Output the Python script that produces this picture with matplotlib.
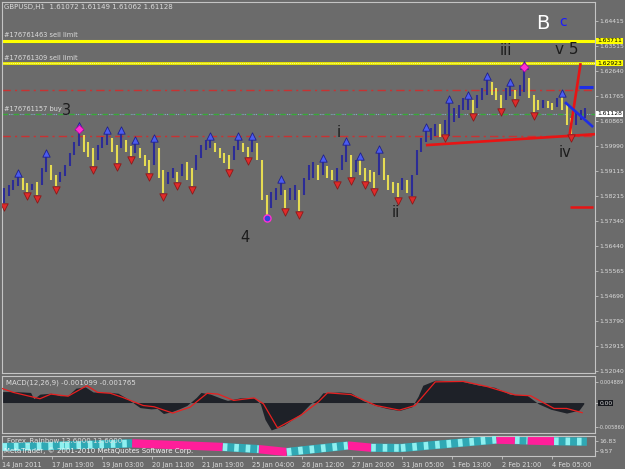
import matplotlib
matplotlib.use("Agg")
import matplotlib.pyplot as plt
from matplotlib.transforms import blended_transform_factory

# ---------------- data ----------------
symbol_text = "GBPUSD,H1  1.61072 1.61149 1.61062 1.61128"
step = 3  # each sample covers 3 hourly bars, sample i starts at bar 3*i

highs = [1.5850, 1.5861, 1.5878, 1.5892, 1.5885, 1.5868, 1.5864, 1.5871, 1.5921, 1.5960,
         1.5931, 1.5896, 1.5907, 1.5931, 1.5974, 1.6013, 1.6055, 1.6037, 1.6013, 1.5991,
         1.6002, 1.6030, 1.6041, 1.6027, 1.6002, 1.6041, 1.6020, 1.5998, 1.6006, 1.5991,
         1.5967, 1.5949, 1.6016, 1.5991, 1.5914, 1.5907, 1.5921, 1.5907, 1.5935, 1.5942,
         1.5921, 1.5967, 1.6002, 1.6020, 1.6023, 1.6009, 1.5991, 1.5974, 1.5967, 1.5998,
         1.6020, 1.6009, 1.5995, 1.6020, 1.6009, 1.5949, 1.5825, 1.5836, 1.5850, 1.5868,
         1.5843, 1.5850, 1.5861, 1.5843, 1.5885, 1.5931, 1.5942, 1.5931, 1.5945, 1.5928,
         1.5914, 1.5921, 1.5967, 1.6002, 1.5967, 1.5949, 1.5949, 1.5921, 1.5914, 1.5907,
         1.5977, 1.5956, 1.5896, 1.5871, 1.5868, 1.5885, 1.5878, 1.5896, 1.5984, 1.6027,
         1.6052, 1.6062, 1.6076, 1.6076, 1.6091, 1.6151, 1.6133, 1.6144, 1.6168, 1.6168,
         1.6161, 1.6179, 1.6204, 1.6232, 1.6225, 1.6204, 1.6179, 1.6204, 1.6211, 1.6197,
         1.6214, 1.6274, 1.6239, 1.6179, 1.6161, 1.6161, 1.6158, 1.6151, 1.6168, 1.6175,
         1.6144, 1.6098, 1.6119, 1.6126, 1.6133]
lows = [1.5797, 1.5822, 1.5843, 1.5857, 1.5843, 1.5836, 1.5843, 1.5825, 1.5861, 1.5907,
        1.5878, 1.5857, 1.5871, 1.5892, 1.5928, 1.5967, 1.5998, 1.5977, 1.5960, 1.5928,
        1.5949, 1.5991, 1.6002, 1.5977, 1.5938, 1.5991, 1.5977, 1.5963, 1.5974, 1.5956,
        1.5928, 1.5903, 1.5931, 1.5885, 1.5832, 1.5864, 1.5885, 1.5871, 1.5892, 1.5878,
        1.5857, 1.5914, 1.5956, 1.5984, 1.5991, 1.5977, 1.5956, 1.5938, 1.5917, 1.5949,
        1.5984, 1.5977, 1.5960, 1.5977, 1.5949, 1.5808, 1.5751, 1.5779, 1.5808, 1.5825,
        1.5779, 1.5808, 1.5808, 1.5769, 1.5825, 1.5878, 1.5885, 1.5878, 1.5896, 1.5885,
        1.5878, 1.5875, 1.5914, 1.5942, 1.5889, 1.5907, 1.5896, 1.5875, 1.5871, 1.5850,
        1.5896, 1.5878, 1.5843, 1.5832, 1.5818, 1.5843, 1.5832, 1.5822, 1.5896, 1.5977,
        1.6013, 1.6020, 1.6034, 1.6030, 1.6041, 1.6034, 1.6083, 1.6098, 1.6126, 1.6126,
        1.6115, 1.6133, 1.6161, 1.6179, 1.6179, 1.6161, 1.6133, 1.6161, 1.6175, 1.6165,
        1.6175, 1.6190, 1.6168, 1.6119, 1.6126, 1.6133, 1.6133, 1.6126, 1.6137, 1.6126,
        1.6073, 1.6041, 1.6073, 1.6091, 1.6098]

peak_idx = [3, 9, 22, 25, 28, 32, 44, 50, 53, 59, 68, 73, 76, 80, 90, 95, 99, 103, 108, 119]
magenta_idx = [16, 111]
trough_idx = [0, 5, 7, 11, 19, 24, 27, 31, 34, 37, 40, 48, 52, 60, 63, 71, 74, 77, 79,
              84, 87, 94, 100, 106, 109, 113, 121]
circle_idx = [56]

sell_limit_1 = 1.63711
sell_limit_2 = 1.62923
buy_level = 1.61120
red_levels = [1.6197, 1.6034]
bid_price = 1.61128

trend_main_t, trend_main_p = [271, 380], [1.6002, 1.6041]
trend_steep_t, trend_steep_p = [363, 370], [1.6041, 1.6292]
trend_blue_t, trend_blue_p = [360, 378], [1.6154, 1.6066]
blue_level_t, blue_level_p = [369, 378], 1.6207
red_level_t, red_level_p = [363, 378], 1.5783

wave_labels = [("3", 41, 1.6126, 10.5), ("4", 155, 1.5677, 10.5), ("i", 215, 1.6045, 10.5),
               ("ii", 252, 1.5762, 10.5), ("iii", 322, 1.6338, 10.5),
               ("iv", 360, 1.5977, 10.5), ("v 5", 361, 1.6342, 11)]

price_ticks = ["1.64415", "1.63515", "1.62640", "1.61765", "1.60865", "1.59990", "1.59115",
               "1.58215", "1.57340", "1.56440", "1.55565", "1.54690", "1.53790", "1.52915",
               "1.52040"]

macd_title = "MACD(12,26,9) -0.001099 -0.001765"
macd_t = [0, 8, 18, 20, 24, 31, 37, 42, 47, 53, 58, 63, 69, 74, 80, 88, 95, 99, 103, 108,
          113, 118, 124, 127, 133, 140, 144, 152, 161, 165, 168, 172, 180, 191, 197, 202,
          205, 216, 223, 231, 239, 246, 254, 262, 266, 269, 277, 293, 305, 315, 325, 335,
          343, 351, 361, 369, 372]
macd_v = [0.0026, 0.0026, 0.0024, 0.0009, 0.0020, 0.0022, 0.0016, 0.0017, 0.0034, 0.0037,
          0.0025, 0.0024, 0.0024, 0.0022, 0.0009, -0.0012, -0.0015, -0.0014, -0.0026, -0.0022,
          -0.0015, -0.0007, 0.0012, 0.0024, 0.0020, 0.0010, 0.0005, 0.0011, 0.0011, -0.0003,
          -0.0040, -0.0065, -0.0054, -0.0026, -0.0003, 0.0009, 0.0023, 0.0025, 0.0023, 0.0004,
          -0.0007, -0.0014, -0.0019, -0.0010, 0.0015, 0.0041, 0.0053, 0.0051, 0.0041, 0.0036,
          0.0019, 0.0019, -0.0003, -0.0016, -0.0025, -0.0018, -0.0003]
signal_t = [0, 7, 24, 31, 42, 54, 61, 69, 77, 90, 97, 109, 120, 131, 138, 148, 161, 167,
            176, 191, 202, 208, 223, 239, 254, 264, 277, 295, 310, 328, 338, 353, 361, 371]
signal_v = [0.0033, 0.0024, 0.0009, 0.0020, 0.0015, 0.0040, 0.0024, 0.0022, 0.0012, -0.0007,
            -0.0010, -0.0025, -0.0011, 0.0022, 0.0020, 0.0005, 0.0011, -0.0003, -0.0060,
            -0.0030, 0.0001, 0.0023, 0.0019, -0.0007, -0.0018, -0.0007, 0.0049, 0.0050,
            0.0038, 0.0018, 0.0016, -0.0014, -0.0014, -0.0024]
macd_ticks = [0.004889, 0.0, -0.005860]
macd_tick_labels = ["0.004889", "0.00", "-0.005860"]

rainbow_title = "Forex_Rainbow 13.6000 13.6000"
copyright_text = "MetaTrader, \u00a9 2001-2010 MetaQuotes Software Corp."
rain_t = [0, 40, 83, 141, 164, 182, 221, 236, 255, 316, 328, 336, 353, 374]
rain_v = [12.5, 13.5, 15.0, 12.5, 11.0, 9.0, 13.5, 12.0, 11.8, 17.6, 17.3, 17.0, 16.5, 16.2]
rain_dir = ["up", "up", "down", "up", "down", "up", "down", "up", "up", "down", "up",
            "down", "up"]
rain_ticks = [16.83, 9.57]
rain_tick_labels = ["16.83", "9.57"]

date_labels = ["14 Jan 2011", "17 Jan 19:00", "19 Jan 03:00", "20 Jan 11:00", "21 Jan 19:00",
               "25 Jan 04:00", "26 Jan 12:00", "27 Jan 20:00", "31 Jan 05:00", "1 Feb 13:00",
               "2 Feb 21:00", "4 Feb 05:00"]
bars_per_label = 32

# ---------------- styling ----------------
W, H = 625, 469
BG = '#6b6b6b'
FG = '#dcdcdc'
SPINE = '#c4c4c4'
AXFS = 4.3
plt.rcParams['font.family'] = ['DejaVu Sans']

fig = plt.figure(figsize=(W / 100, H / 100), dpi=100, facecolor=BG)


def rect(x0, y0, x1, y1):
    return [x0 / W, 1 - y1 / H, (x1 - x0) / W, (y1 - y0) / H]


ax = fig.add_axes(rect(2, 2, 595, 373))
axm = fig.add_axes(rect(2, 376, 595, 433), sharex=ax)
axr = fig.add_axes(rect(2, 436, 595, 456), sharex=ax)

for a in (ax, axm, axr):
    a.set_facecolor(BG)
    for s in a.spines.values():
        s.set_color(SPINE)
        s.set_linewidth(0.8)
    a.yaxis.tick_right()
    a.tick_params(axis='y', colors=SPINE, labelcolor=FG, labelsize=AXFS, length=2,
                  width=0.6, pad=1.0)
    a.tick_params(axis='x', bottom=False, labelbottom=False)

ax.set_xlim(-0.3, 379.2)
ax.set_ylim(1.51959, 1.65084)

# ---- price bars ----
xs = [i * step + 1 for i in range(len(highs))]
mids = [(h + l) / 2 for h, l in zip(highs, lows)]
cols = []
for i, m in enumerate(mids):
    prev = mids[i - 1] if i > 0 else m - 1
    cols.append('#2c2c96' if m >= prev else '#e6dc52')
ax.vlines(xs, lows, highs, colors=cols, linewidth=1.5, zorder=3)

off = 0.0013
ax.scatter([xs[i] for i in peak_idx], [highs[i] + off for i in peak_idx], marker='^',
           s=28, facecolor='#4b5cf0', edgecolor='#20208c', linewidth=0.6, zorder=5)
ax.scatter([xs[i] for i in trough_idx], [lows[i] - off for i in trough_idx], marker='v',
           s=28, facecolor='#e02a2a', edgecolor='#8c1a1a', linewidth=0.6, zorder=5)
ax.scatter([xs[i] for i in magenta_idx], [highs[i] + off for i in magenta_idx], marker='^',
           s=32, facecolor='#4b5cf0', edgecolor='#20208c', linewidth=0.6, zorder=5)
ax.scatter([xs[i] for i in magenta_idx], [highs[i] + 0.0004 for i in magenta_idx], marker='D',
           s=20, facecolor='#ff30d0', edgecolor='#c000a0', linewidth=0.5, zorder=6)
ax.scatter([xs[i] for i in circle_idx], [lows[i] - 0.0008 for i in circle_idx], marker='o',
           s=26, facecolor='#3040e0', edgecolor='#ff30d0', linewidth=1.0, zorder=6)

# ---- horizontal levels ----
ax.axhline(sell_limit_1 - 0.0004, color='#3ca03c', lw=1.0, ls=(0, (4, 3)), zorder=2)
ax.axhline(sell_limit_1, color='#ffff00', lw=2.2, zorder=2)
ax.axhline(sell_limit_2, color='#f0f000', lw=2.0, zorder=2)
ax.axhline(sell_limit_2, color='#ffffc0', lw=0.6, ls=(0, (1, 1.5)), zorder=2)
for lv in red_levels:
    ax.axhline(lv, color='#c83232', lw=1.0, ls=(0, (6, 3, 1.5, 3)), zorder=2)
ax.axhline(buy_level, color='#7fb3c8', lw=0.8, ls=(0, (1, 1)), zorder=2)
ax.axhline(buy_level, color='#38a838', lw=1.0, ls=(0, (4, 4)), zorder=2)

lab_tr = blended_transform_factory(ax.transAxes, ax.transData)
for txt, lv in [("#176761463 sell limit", sell_limit_1), ("#176761309 sell limit", sell_limit_2),
                ("#176761157 buy", buy_level)]:
    ax.text(0.004, lv + 0.0009, txt, transform=lab_tr, color=FG, fontsize=4.8,
            va='bottom', ha='left', zorder=4)

# ---- trend lines ----
ax.plot(trend_main_t, trend_main_p, color='#e81414', lw=1.9, zorder=4, solid_capstyle='butt')
ax.plot(trend_steep_t, trend_steep_p, color='#e81414', lw=1.9, zorder=4, solid_capstyle='butt')
ax.plot(trend_blue_t, trend_blue_p, color='#1e2ee6', lw=1.9, zorder=4, solid_capstyle='butt')
ax.plot(blue_level_t, [blue_level_p] * 2, color='#1e2ee6', lw=2.2, zorder=4,
        solid_capstyle='butt')
ax.plot(red_level_t, [red_level_p] * 2, color='#e81414', lw=1.8, zorder=4,
        solid_capstyle='butt')

# ---- wave labels ----
for txt, t, p, fs in wave_labels:
    ax.text(t, p, txt, color='#1c1c1c', fontsize=fs, ha='center', va='center', zorder=7)
ax.text(346, 1.6434, "B", color='#ffffff', fontsize=14, ha='center', va='center', zorder=7)
ax.text(359, 1.6436, "c", color='#1a1aff', fontsize=10, ha='center', va='center', zorder=7)

ax.text(0.004, 0.986, symbol_text, transform=ax.transAxes, color=FG, fontsize=5,
        va='center', ha='left')

# ---- price axis ----
ax.set_yticks([float(s) for s in price_ticks])
ax.set_yticklabels(price_ticks)
box_tr = blended_transform_factory(ax.transAxes, ax.transData)
for val, fc in [(sell_limit_1, '#ffff00'), (sell_limit_2, '#ffff00'), (bid_price, '#ffffff')]:
    ax.text(1.0035, val, f"{val:.5f}", transform=box_tr, fontsize=AXFS, color='#000000',
            va='center', ha='left', zorder=10, clip_on=False,
            bbox=dict(boxstyle='square,pad=0.12', fc=fc, ec='none'))

# ---- MACD ----
axm.set_ylim(-0.00722, 0.00629)
axm.fill_between(macd_t, macd_v, 0, color='#1e2128', lw=0, zorder=2)
axm.plot(signal_t, signal_v, color='#e82020', lw=0.9, zorder=3)
axm.set_yticks(macd_ticks)
axm.set_yticklabels(macd_tick_labels)
for lbl in axm.get_yticklabels():
    lbl.set_fontsize(3.6)
axm.get_yticklabels()[1].set_fontsize(AXFS)
axm.get_yticklabels()[1].set_bbox(dict(boxstyle='square,pad=0.12', fc='#15171c', ec='none'))
axm.text(0.006, 0.88, macd_title, transform=axm.transAxes, color=FG, fontsize=5,
         va='center', ha='left')

# ---- Rainbow ----
axr.set_ylim(6.27, 20.1)
for k in range(len(rain_dir)):
    seg_t = rain_t[k:k + 2]
    seg_v = rain_v[k:k + 2]
    if rain_dir[k] == "up":
        axr.plot(seg_t, seg_v, color='#2fa8b4', lw=6, solid_capstyle='butt', zorder=2)
        axr.plot(seg_t, seg_v, color='#8ff0f0', lw=5.5, ls=(0, (0.6, 0.9)), zorder=3)
    else:
        axr.plot(seg_t, seg_v, color='#ff1e9a', lw=6, solid_capstyle='butt', zorder=2)
axr.set_yticks(rain_ticks)
axr.set_yticklabels(rain_tick_labels)
axr.text(0.008, 0.78, rainbow_title, transform=axr.transAxes, color=FG, fontsize=5,
         va='center', ha='left', zorder=6)
axr.text(0.003, 0.28, copyright_text, transform=axr.transAxes, color='#f0f0f0',
         fontsize=5, va='center', ha='left', zorder=6)

# ---- time axis ----
axr.tick_params(axis='x', bottom=True, labelbottom=True, colors=SPINE, labelcolor=FG,
                labelsize=4.8, length=2, width=0.6, pad=2)
axr.set_xticks([k * bars_per_label for k in range(len(date_labels))])
axr.set_xticklabels(date_labels)
for lbl in axr.get_xticklabels():
    lbl.set_horizontalalignment('left')

fig.savefig("out.png", dpi=100, facecolor=BG)
